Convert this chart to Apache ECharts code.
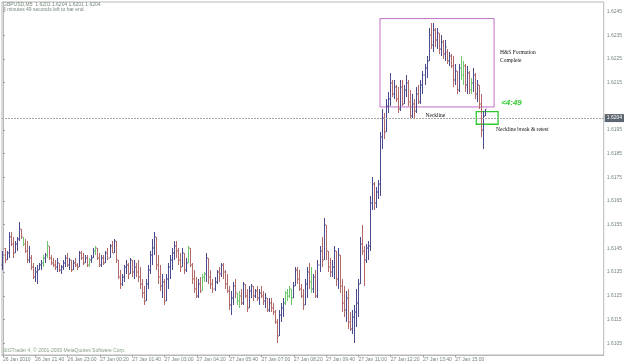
<!DOCTYPE html>
<html><head><meta charset="utf-8">
<script src="https://cdn.jsdelivr.net/npm/echarts@6/dist/echarts.min.js"></script>
<style>html,body{margin:0;padding:0;background:#fff}#c{width:625px;height:364px}</style>
</head><body><div id="c"></div>
<script>
// ---- tick labels ----
const tickLabels = ["26 Jan 2010","26 Jan 21:40","26 Jan 23:00","27 Jan 00:20","27 Jan 01:40","27 Jan 03:00","27 Jan 04:20","27 Jan 05:40","27 Jan 07:00","27 Jan 08:20","27 Jan 09:40","27 Jan 11:00","27 Jan 12:20","27 Jan 13:40","27 Jan 15:00"];
const tickIndex = [0,16,32,48,64,80,96,112,128,144,160,176,192,208,224];
const priceTicks = [1.6105,1.6115,1.6125,1.6135,1.6145,1.6155,1.6165,1.6175,1.6185,1.6195,1.6215,1.6225,1.6235,1.6245];
const slotCount = 298;
const lastPrice = 1.6204;

// ---- M5 OHLC bars ----
const open = [
1.6138,1.6142,1.6140,1.6143,1.6150,1.6147,1.6143,1.6147,1.6149,1.6153,
1.6150,1.6147,1.6144,1.6140,1.6141,1.6137,1.6133,1.6135,1.6136,1.6138,
1.6139,1.6141,1.6142,1.6146,1.6141,1.6139,1.6138,1.6137,1.6139,1.6136,
1.6137,1.6139,1.6141,1.6138,1.6140,1.6136,1.6139,1.6138,1.6137,1.6143,
1.6141,1.6139,1.6141,1.6138,1.6140,1.6141,1.6144,1.6145,1.6141,1.6138,
1.6141,1.6139,1.6143,1.6141,1.6146,1.6143,1.6148,1.6140,1.6133,1.6130,
1.6133,1.6137,1.6138,1.6134,1.6140,1.6135,1.6137,1.6135,1.6133,1.6130,
1.6126,1.6123,1.6130,1.6136,1.6142,1.6145,1.6150,1.6138,1.6133,1.6129,
1.6131,1.6123,1.6132,1.6137,1.6140,1.6143,1.6146,1.6144,1.6140,1.6137,
1.6143,1.6136,1.6139,1.6145,1.6138,1.6132,1.6128,1.6125,1.6130,1.6127,
1.6133,1.6134,1.6141,1.6133,1.6130,1.6128,1.6131,1.6135,1.6134,1.6138,
1.6135,1.6130,1.6127,1.6121,1.6124,1.6129,1.6126,1.6123,1.6125,1.6122,
1.6130,1.6125,1.6120,1.6127,1.6129,1.6125,1.6127,1.6124,1.6126,1.6125,
1.6123,1.6124,1.6119,1.6122,1.6120,1.6118,1.6114,1.6108,1.6117,1.6120,
1.6122,1.6126,1.6125,1.6128,1.6124,1.6129,1.6136,1.6132,1.6128,1.6125,
1.6121,1.6130,1.6135,1.6131,1.6128,1.6133,1.6125,1.6138,1.6144,1.6140,
1.6155,1.6144,1.6137,1.6135,1.6137,1.6144,1.6132,1.6142,1.6129,1.6122,
1.6119,1.6124,1.6114,1.6111,1.6116,1.6118,1.6122,1.6130,1.6147,1.6144,
1.6140,1.6145,1.6146,1.6164,1.6172,1.6164,1.6169,1.6172,1.6192,1.6200,
1.6194,1.6205,1.6208,1.6215,1.6210,1.6213,1.6208,1.6204,1.6213,1.6206,
1.6212,1.6215,1.6207,1.6201,1.6206,1.6203,1.6210,1.6207,1.6214,1.6218,
1.6221,1.6224,1.6235,1.6231,1.6237,1.6233,1.6236,1.6229,1.6232,1.6227,
1.6228,1.6224,1.6226,1.6222,1.6216,1.6220,1.6212,1.6221,1.6218,1.6222,
1.6214,1.6219,1.6212,1.6215,1.6218,1.6210,1.6214,1.6206,1.6195,1.6201];
const high = [
1.6144,1.6145,1.6144,1.6152,1.6152,1.6150,1.6148,1.6150,1.6156,1.6153,
1.6150,1.6149,1.6148,1.6146,1.6142,1.6139,1.6137,1.6138,1.6139,1.6140,
1.6142,1.6143,1.6148,1.6146,1.6142,1.6141,1.6140,1.6141,1.6139,1.6138,
1.6140,1.6142,1.6143,1.6141,1.6140,1.6140,1.6141,1.6139,1.6144,1.6144,
1.6143,1.6142,1.6142,1.6141,1.6142,1.6145,1.6146,1.6145,1.6143,1.6142,
1.6142,1.6144,1.6145,1.6147,1.6148,1.6149,1.6148,1.6140,1.6136,1.6134,
1.6138,1.6140,1.6139,1.6141,1.6140,1.6140,1.6139,1.6140,1.6137,1.6132,
1.6129,1.6132,1.6138,1.6144,1.6149,1.6152,1.6150,1.6142,1.6138,1.6134,
1.6132,1.6134,1.6139,1.6142,1.6145,1.6148,1.6148,1.6145,1.6143,1.6145,
1.6143,1.6141,1.6146,1.6145,1.6139,1.6136,1.6133,1.6132,1.6133,1.6134,
1.6135,1.6143,1.6141,1.6136,1.6132,1.6133,1.6136,1.6137,1.6139,1.6139,
1.6136,1.6134,1.6129,1.6127,1.6131,1.6132,1.6126,1.6127,1.6128,1.6131,
1.6130,1.6128,1.6129,1.6130,1.6129,1.6128,1.6129,1.6128,1.6129,1.6127,
1.6126,1.6124,1.6124,1.6124,1.6122,1.6119,1.6115,1.6119,1.6122,1.6124,
1.6127,1.6128,1.6129,1.6128,1.6131,1.6137,1.6137,1.6136,1.6130,1.6128,
1.6132,1.6137,1.6139,1.6137,1.6134,1.6136,1.6140,1.6146,1.6150,1.6158,
1.6155,1.6144,1.6141,1.6140,1.6146,1.6144,1.6145,1.6142,1.6132,1.6129,
1.6127,1.6128,1.6118,1.6119,1.6121,1.6128,1.6132,1.6150,1.6155,1.6146,
1.6147,1.6148,1.6167,1.6175,1.6173,1.6171,1.6174,1.6194,1.6204,1.6202,
1.6208,1.6211,1.6219,1.6216,1.6216,1.6214,1.6213,1.6216,1.6216,1.6214,
1.6218,1.6216,1.6212,1.6210,1.6208,1.6213,1.6214,1.6216,1.6220,1.6223,
1.6226,1.6238,1.6240,1.6240,1.6238,1.6238,1.6236,1.6235,1.6233,1.6233,
1.6229,1.6228,1.6227,1.6226,1.6223,1.6220,1.6223,1.6226,1.6224,1.6223,
1.6222,1.6220,1.6217,1.6221,1.6219,1.6216,1.6214,1.6210,1.6203,1.6204];
const low = [
1.6136,1.6139,1.6140,1.6141,1.6146,1.6141,1.6143,1.6144,1.6148,1.6149,
1.6146,1.6143,1.6139,1.6139,1.6136,1.6132,1.6131,1.6130,1.6136,1.6136,
1.6137,1.6139,1.6141,1.6140,1.6138,1.6137,1.6136,1.6135,1.6135,1.6134,
1.6136,1.6137,1.6137,1.6136,1.6135,1.6136,1.6137,1.6136,1.6137,1.6140,
1.6138,1.6139,1.6137,1.6137,1.6139,1.6141,1.6142,1.6140,1.6137,1.6137,
1.6138,1.6139,1.6140,1.6141,1.6143,1.6143,1.6139,1.6132,1.6128,1.6129,
1.6131,1.6134,1.6132,1.6134,1.6133,1.6132,1.6133,1.6131,1.6128,1.6124,
1.6121,1.6123,1.6128,1.6134,1.6138,1.6142,1.6136,1.6130,1.6127,1.6124,
1.6121,1.6123,1.6128,1.6132,1.6136,1.6140,1.6141,1.6138,1.6135,1.6137,
1.6134,1.6135,1.6139,1.6137,1.6130,1.6126,1.6124,1.6124,1.6126,1.6127,
1.6131,1.6131,1.6130,1.6128,1.6126,1.6127,1.6130,1.6131,1.6133,1.6132,
1.6128,1.6126,1.6119,1.6117,1.6121,1.6124,1.6121,1.6120,1.6121,1.6121,
1.6124,1.6118,1.6120,1.6124,1.6123,1.6124,1.6123,1.6121,1.6124,1.6121,
1.6120,1.6118,1.6118,1.6118,1.6117,1.6113,1.6105,1.6108,1.6114,1.6116,
1.6121,1.6123,1.6124,1.6121,1.6124,1.6129,1.6130,1.6127,1.6124,1.6119,
1.6121,1.6124,1.6128,1.6126,1.6126,1.6124,1.6124,1.6135,1.6137,1.6140,
1.6140,1.6135,1.6133,1.6133,1.6132,1.6129,1.6128,1.6126,1.6118,1.6116,
1.6114,1.6111,1.6110,1.6109,1.6105,1.6112,1.6116,1.6130,1.6142,1.6129,
1.6139,1.6140,1.6144,1.6161,1.6161,1.6162,1.6166,1.6167,1.6187,1.6191,
1.6194,1.6202,1.6205,1.6209,1.6208,1.6207,1.6202,1.6203,1.6205,1.6206,
1.6209,1.6205,1.6200,1.6200,1.6200,1.6202,1.6206,1.6206,1.6210,1.6214,
1.6217,1.6224,1.6229,1.6228,1.6230,1.6229,1.6227,1.6226,1.6225,1.6224,
1.6223,1.6222,1.6221,1.6213,1.6214,1.6210,1.6211,1.6216,1.6214,1.6211,
1.6210,1.6210,1.6210,1.6211,1.6208,1.6207,1.6204,1.6192,1.6187,1.6201];
const close = [
1.6142,1.6140,1.6143,1.6150,1.6147,1.6143,1.6147,1.6149,1.6153,1.6150,
1.6147,1.6144,1.6140,1.6141,1.6137,1.6133,1.6135,1.6136,1.6138,1.6139,
1.6141,1.6142,1.6146,1.6141,1.6139,1.6138,1.6137,1.6139,1.6136,1.6137,
1.6139,1.6141,1.6138,1.6140,1.6136,1.6139,1.6138,1.6137,1.6143,1.6141,
1.6139,1.6141,1.6138,1.6140,1.6141,1.6144,1.6145,1.6141,1.6138,1.6141,
1.6139,1.6143,1.6141,1.6146,1.6143,1.6148,1.6140,1.6133,1.6130,1.6133,
1.6137,1.6138,1.6134,1.6140,1.6135,1.6137,1.6135,1.6133,1.6130,1.6126,
1.6123,1.6130,1.6136,1.6142,1.6145,1.6150,1.6138,1.6133,1.6129,1.6131,
1.6123,1.6132,1.6137,1.6140,1.6143,1.6146,1.6144,1.6140,1.6137,1.6143,
1.6136,1.6139,1.6145,1.6138,1.6132,1.6128,1.6125,1.6130,1.6127,1.6133,
1.6134,1.6141,1.6133,1.6130,1.6128,1.6131,1.6135,1.6134,1.6138,1.6135,
1.6130,1.6127,1.6121,1.6124,1.6129,1.6126,1.6123,1.6125,1.6122,1.6130,
1.6125,1.6120,1.6127,1.6129,1.6125,1.6127,1.6124,1.6126,1.6125,1.6123,
1.6124,1.6119,1.6122,1.6120,1.6118,1.6114,1.6108,1.6117,1.6120,1.6122,
1.6126,1.6125,1.6128,1.6124,1.6129,1.6136,1.6132,1.6128,1.6125,1.6121,
1.6130,1.6135,1.6131,1.6128,1.6133,1.6125,1.6138,1.6144,1.6140,1.6155,
1.6144,1.6137,1.6135,1.6137,1.6144,1.6132,1.6142,1.6129,1.6122,1.6119,
1.6124,1.6114,1.6111,1.6116,1.6118,1.6122,1.6130,1.6147,1.6144,1.6140,
1.6145,1.6146,1.6164,1.6172,1.6164,1.6169,1.6172,1.6192,1.6200,1.6194,
1.6205,1.6208,1.6215,1.6210,1.6213,1.6208,1.6204,1.6213,1.6206,1.6212,
1.6215,1.6207,1.6201,1.6206,1.6203,1.6210,1.6207,1.6214,1.6218,1.6221,
1.6224,1.6235,1.6231,1.6237,1.6233,1.6236,1.6229,1.6232,1.6227,1.6230,
1.6224,1.6226,1.6222,1.6216,1.6220,1.6212,1.6221,1.6218,1.6222,1.6214,
1.6219,1.6212,1.6215,1.6218,1.6210,1.6214,1.6206,1.6195,1.6201,1.6204];
// bars painted green by the chart's indicator
const greenBars = [10,20,22,43,46,92,99,100,116,117,140,141,142,143,153,227,228,232];

// ---- annotations (data coordinates: bar index, price) ----
const hsBox = [[186.7, 1.62047], [243.2, 1.62420]];
const retestBox = [[234.4, 1.61974], [245.2, 1.62027]];

const chart = echarts.init(document.getElementById('c'), null, {renderer: 'canvas'});
const barData = open.map((o, i) => [i, o, high[i], low[i], close[i], greenBars.indexOf(i) >= 0 ? 1 : 0]);

const UP = '#4a4a8e', DOWN = '#b36868', GREEN = '#6cc86c';
const textColor = '#76877a';
const serif = 'Liberation Serif';

function renderBar(params, api) {
  const i = api.value(0), o = api.value(1), h = api.value(2), l = api.value(3), c = api.value(4), g = api.value(5);
  const ph = api.coord([i, h]), pl = api.coord([i, l]), po = api.coord([i, o]), pc = api.coord([i, c]);
  const x = Math.round(ph[0] - 0.5);
  const col = g ? GREEN : (c >= o ? UP : DOWN);
  const yt = Math.round(ph[1]), yb = Math.round(pl[1]);
  return {type: 'group', children: [
    {type: 'rect', shape: {x: x, y: yt, width: 1, height: Math.max(1, yb - yt)}, style: {fill: col}},
    {type: 'rect', shape: {x: x - 1, y: Math.round(po[1]) - 0.5, width: 1, height: 1}, style: {fill: col, opacity: 0.6}},
    {type: 'rect', shape: {x: x + 1, y: Math.round(pc[1]) - 0.5, width: 1, height: 1}, style: {fill: col, opacity: 0.6}}
  ]};
}

const option = {
  animation: false,
  backgroundColor: '#ffffff',
  grid: {left: 1, right: 20, top: 2, bottom: 9, show: true, borderColor: '#b8b8b8', borderWidth: 1, backgroundColor: 'transparent'},
  xAxis: {
    type: 'value', min: -0.5, max: slotCount - 0.5,
    axisLine: {show: true, lineStyle: {color: '#b8b8b8'}},
    axisTick: {show: true, customValues: tickIndex, length: 2, lineStyle: {color: '#a0a0a0'}},
    axisLabel: {customValues: tickIndex, formatter: v => tickLabels[tickIndex.indexOf(Math.round(v))] || '',
      align: 'left', fontSize: 5, color: textColor, margin: 2, fontFamily: 'Liberation Sans'},
    splitLine: {show: false}
  },
  yAxis: {
    type: 'value', position: 'right', min: 1.6100, max: 1.6249,
    axisLine: {show: true, lineStyle: {color: '#b8b8b8'}},
    axisTick: {show: true, customValues: priceTicks, length: 2, lineStyle: {color: '#a0a0a0'}},
    axisLabel: {customValues: priceTicks, formatter: v => v.toFixed(4), fontSize: 5, color: textColor, margin: 3, fontFamily: 'Liberation Sans'},
    splitLine: {show: false}
  },
  graphic: [
    {type: 'text', left: 3, top: 2, style: {text: 'GBPUSD,M5  1.6201 1.6204 1.6201 1.6204', fontSize: 5, fill: textColor, fontFamily: 'Liberation Sans'}},
    {type: 'text', left: 3, top: 7.5, style: {text: '4 minutes 49 seconds left to bar end', fontSize: 5, fill: textColor, fontFamily: 'Liberation Sans'}},
    {type: 'text', left: 3, top: 348.5, style: {text: 'SIGTrader 4, \u00a9 2001-2009 MetaQuotes Software Corp.', fontSize: 5, fill: '#86a086', fontFamily: 'Liberation Sans'}}
  ],
  series: [
    {
      type: 'custom', name: 'GBPUSD', renderItem: renderBar, data: barData, clip: true,
      encode: {x: 0, y: [1, 2, 3, 4]}
    },
    {
      type: 'line', data: [], silent: true,
      markLine: {
        silent: true, symbol: ['none', 'none'],
        lineStyle: {color: '#a4a4a4', type: [2, 1], width: 1},
        label: {show: true, position: 'end', distance: 1, formatter: lastPrice.toFixed(4), fontSize: 5, color: '#ffffff',
          backgroundColor: '#5c6670', padding: [2, 2, 1, 2], fontFamily: 'Liberation Sans'},
        data: [{yAxis: lastPrice}]
      },
      markArea: {
        silent: true,
        data: [
          [{coord: hsBox[0], itemStyle: {color: 'rgba(0,0,0,0)', borderColor: '#c06ec6', borderWidth: 1}}, {coord: hsBox[1]}],
          [{coord: retestBox[0], itemStyle: {color: 'rgba(0,0,0,0)', borderColor: '#2ec82e', borderWidth: 1.3}}, {coord: retestBox[1]}]
        ]
      },
      markPoint: {
        silent: true, symbol: 'circle', symbolSize: 0,
        data: [
          {coord: [246.2, 1.62258], label: {show: true, position: 'right', distance: 0, formatter: 'H&S Formation\nComplete', fontSize: 5.5, lineHeight: 8, color: '#111', fontFamily: serif}},
          {coord: [209.2, 1.62009], label: {show: true, position: 'right', distance: 0, formatter: 'Neckline', fontSize: 5.5, color: '#111', fontFamily: serif}},
          {coord: [244.2, 1.61950], label: {show: true, position: 'right', distance: 0, formatter: 'Neckline break & retest', fontSize: 5.5, color: '#111', fontFamily: serif}},
          {coord: [246.7, 1.62064], label: {show: true, position: 'right', distance: 0, formatter: '<4:49', fontSize: 8, fontWeight: 'bold', fontStyle: 'italic', color: '#33cc33', fontFamily: 'Liberation Sans'}}
        ]
      }
    }
  ]
};
chart.setOption(option);
</script>
</body></html>
